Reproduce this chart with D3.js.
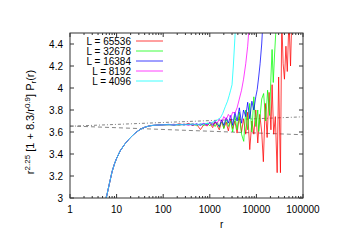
<!DOCTYPE html>
<html>
<head>
<meta charset="utf-8">
<script src="https://cdn.jsdelivr.net/npm/d3@7"></script>
<style>
  body { margin: 0; background: #fff; }
  svg { display: block; font-family: "Liberation Sans", Arial, sans-serif; }
</style>
</head>
<body>
<div id="chart"></div>
<script>
// common small-r part shared by every L
const headR = [5, 5.5, 6, 7, 8, 9, 10, 12, 15, 18, 21, 25, 30, 35, 40, 50, 60, 75, 100];
const headP = [2.85, 2.93, 3.0, 3.13, 3.24, 3.31, 3.36, 3.43, 3.49, 3.53, 3.56, 3.59, 3.615, 3.632, 3.643, 3.655, 3.66, 3.663, 3.665];

// tails per system size
const r65536 = [130, 170, 220, 280, 350, 430, 520, 630, 750, 880, 1000, 1150, 1300, 1450, 1600, 1800, 2000, 2250, 2500, 2800, 3100, 3450, 3850, 4300, 4800, 5300, 5900, 6500, 7200, 8000, 8800, 9700, 10700, 11800, 13000, 14100, 15500, 17000, 18700, 20500, 21700, 23500, 25500, 27900, 30000, 32800, 35000, 37500, 40000, 43000, 46000, 50000, 54000, 58000];
const p65536 = [3.668, 3.662, 3.675, 3.664, 3.678, 3.66, 3.67, 3.622, 3.668, 3.655, 3.68, 3.64, 3.69, 3.655, 3.62, 3.7, 3.635, 3.69, 3.61, 3.72, 3.63, 3.70, 3.59, 3.74, 3.6, 3.72, 3.58, 3.78, 3.44, 3.70, 3.58, 3.80, 3.5, 3.76, 3.6, 3.33, 3.86, 3.55, 3.96, 3.62, 4.03, 3.58, 3.74, 3.23, 4.1, 3.23, 4.62, 4.22, 4.08, 4.38, 4.15, 4.62, 4.2, 4.7];

const r32678 = [130, 170, 220, 280, 350, 430, 520, 630, 750, 880, 1000, 1150, 1300, 1450, 1600, 1800, 2000, 2250, 2500, 2800, 3100, 3450, 3850, 4300, 4800, 5350, 5900, 6500, 7200, 8000, 8800, 9700, 10700, 11200, 13000, 14300, 15800, 17400, 19200, 20500, 21700, 23000, 24500, 26000, 27500];
const p32678 = [3.664, 3.67, 3.66, 3.672, 3.665, 3.675, 3.658, 3.672, 3.66, 3.68, 3.655, 3.685, 3.65, 3.69, 3.64, 3.71, 3.63, 3.72, 3.65, 3.70, 3.6, 3.75, 3.62, 3.78, 3.58, 3.515, 3.8, 3.62, 3.86, 3.6, 3.92, 3.65, 3.8, 3.605, 3.9, 3.95, 3.7, 3.98, 3.75, 4.1, 4.35, 4.05, 4.3, 4.5, 4.7];

const r16384 = [130, 170, 220, 280, 350, 430, 520, 630, 750, 880, 1000, 1150, 1300, 1450, 1600, 1800, 2000, 2250, 2500, 2800, 3100, 3450, 3850, 4300, 4800, 5300, 5900, 6500, 7200, 8000, 8800, 9700, 10400, 11200, 12000, 13000, 14000];
const p16384 = [3.67, 3.662, 3.67, 3.665, 3.672, 3.662, 3.675, 3.66, 3.678, 3.665, 3.69, 3.66, 3.695, 3.67, 3.65, 3.71, 3.66, 3.73, 3.68, 3.75, 3.66, 3.78, 3.70, 3.82, 3.68, 3.80, 3.74, 3.87, 3.72, 3.88, 3.80, 3.92, 3.985, 4.1, 4.22, 4.4, 4.65];

const r8192 = [130, 170, 220, 280, 350, 430, 520, 630, 750, 880, 1000, 1150, 1300, 1450, 1600, 1800, 2000, 2250, 2500, 2800, 3100, 3450, 3850, 4300, 4800, 5300, 5900, 6500, 7100];
const p8192 = [3.665, 3.67, 3.663, 3.672, 3.66, 3.675, 3.665, 3.67, 3.68, 3.66, 3.69, 3.67, 3.70, 3.68, 3.72, 3.69, 3.74, 3.71, 3.76, 3.73, 3.78, 3.77, 3.82, 3.9, 3.98, 4.08, 4.22, 4.38, 4.6];

const r4096 = [130, 170, 220, 280, 350, 430, 520, 630, 750, 880, 1000, 1150, 1300, 1450, 1700, 1900, 2150, 2400, 2600, 2800, 3000, 3200, 3450, 3700];
const p4096 = [3.667, 3.663, 3.67, 3.665, 3.668, 3.672, 3.665, 3.675, 3.67, 3.68, 3.678, 3.69, 3.70, 3.71, 3.73, 3.77, 3.83, 3.88, 3.93, 3.98, 4.03, 4.2, 4.45, 4.7];

const labels = ["L = 65536", "L = 32678", "L = 16384", "L = 8192", "L = 4096"];
const colors = ["#ff0000", "#00ff00", "#0000ff", "#ff00ff", "#00ffff"];
const tailR = [r65536, r32678, r16384, r8192, r4096];
const tailP = [p65536, p32678, p16384, p8192, p4096];

// the two guide lines
const fitR = [1, 100000];
const fitUpper = [3.652, 3.738];
const fitLower = [3.655, 3.575];

const xTicks = [1, 10, 100, 1000, 10000, 100000];
const yTicks = [3, 3.2, 3.4, 3.6, 3.8, 4, 4.2, 4.4];

const W = 351, H = 248;
const margin = { top: 33, right: 48, bottom: 50, left: 70 };
const width = W - margin.left - margin.right;
const height = H - margin.top - margin.bottom;

const svg = d3.select("#chart").append("svg")
    .attr("width", W)
    .attr("height", H);

const g = svg.append("g")
    .attr("transform", "translate(" + margin.left + "," + margin.top + ")");

const x = d3.scaleLog().domain([1, 100000]).range([0, width]);
const y = d3.scaleLinear().domain([3, 4.5]).range([height, 0]);

svg.append("defs").append("clipPath").attr("id", "clip")
    .append("rect").attr("width", width).attr("height", height);

// ticks (inward, mirrored)
const minor = [];
for (let d = 1; d < 100000; d *= 10) {
    for (let k = 2; k <= 9; k++) minor.push(d * k);
}
const tickCol = "#333";
const tg = g.append("g").attr("stroke", tickCol).attr("stroke-width", 1);
xTicks.forEach(t => {
    tg.append("line").attr("x1", x(t)).attr("x2", x(t)).attr("y1", height).attr("y2", height - 4);
    tg.append("line").attr("x1", x(t)).attr("x2", x(t)).attr("y1", 0).attr("y2", 4);
});
minor.forEach(t => {
    tg.append("line").attr("x1", x(t)).attr("x2", x(t)).attr("y1", height).attr("y2", height - 2);
    tg.append("line").attr("x1", x(t)).attr("x2", x(t)).attr("y1", 0).attr("y2", 2);
});
yTicks.forEach(t => {
    tg.append("line").attr("x1", 0).attr("x2", 4).attr("y1", y(t)).attr("y2", y(t));
    tg.append("line").attr("x1", width).attr("x2", width - 4).attr("y1", y(t)).attr("y2", y(t));
});

// tick labels
g.selectAll(".xl").data(xTicks).enter().append("text")
    .attr("x", d => x(d)).attr("y", height + 15)
    .attr("text-anchor", "middle").attr("font-size", 10).attr("fill", "#000")
    .text(d => d);
g.selectAll(".yl").data(yTicks).enter().append("text")
    .attr("x", -7).attr("y", d => y(d) + 3.5)
    .attr("text-anchor", "end").attr("font-size", 10).attr("fill", "#000")
    .text(d => d);

const line = d3.line().x(d => x(d[0])).y(d => y(d[1]));
const plot = g.append("g").attr("clip-path", "url(#clip)");

// guide lines
plot.append("path")
    .attr("d", line(fitR.map((r, i) => [r, fitUpper[i]])))
    .attr("fill", "none").attr("stroke", "#666").attr("stroke-width", 0.8)
    .attr("stroke-dasharray", "3,2,1,2");
plot.append("path")
    .attr("d", line(fitR.map((r, i) => [r, fitLower[i]])))
    .attr("fill", "none").attr("stroke", "#666").attr("stroke-width", 0.8)
    .attr("stroke-dasharray", "4,3");

// data curves
labels.forEach((lab, i) => {
    const pts = headR.map((r, j) => [r, headP[j]])
        .concat(tailR[i].map((r, j) => [r, tailP[i][j]]));
    plot.append("path")
        .attr("d", line(pts))
        .attr("fill", "none")
        .attr("stroke", colors[i])
        .attr("stroke-opacity", 0.75)
        .attr("stroke-width", 1);
});

// frame
g.append("rect").attr("width", width).attr("height", height)
    .attr("fill", "none").attr("stroke", tickCol).attr("stroke-width", 1);

// legend
labels.forEach((lab, i) => {
    const ly = 8 + i * 10;
    g.append("text").attr("x", 61).attr("y", ly + 3.5)
        .attr("text-anchor", "end").attr("font-size", 10).text(lab);
    g.append("line").attr("x1", 66).attr("x2", 93).attr("y1", ly).attr("y2", ly)
        .attr("stroke", colors[i]).attr("stroke-opacity", 0.75).attr("stroke-width", 1);
});

// axis titles
svg.append("text").attr("x", margin.left + x(1800)).attr("y", 228)
    .attr("text-anchor", "middle").attr("font-size", 10).text("r");

const yt = svg.append("text")
    .attr("transform", "translate(34,122) rotate(-90)")
    .attr("text-anchor", "middle").attr("font-size", 11);
yt.append("tspan").text("r");
yt.append("tspan").attr("font-size", 8).attr("dy", -4).text("2.25");
yt.append("tspan").attr("dy", 4).text("  [1 + 8.3/r");
yt.append("tspan").attr("font-size", 8).attr("dy", -4).text("0.9");
yt.append("tspan").attr("dy", 4).text("]  P");
yt.append("tspan").attr("font-size", 8).attr("dy", 2).text("r");
yt.append("tspan").attr("dy", -2).text("(r)");
</script>
</body>
</html>
